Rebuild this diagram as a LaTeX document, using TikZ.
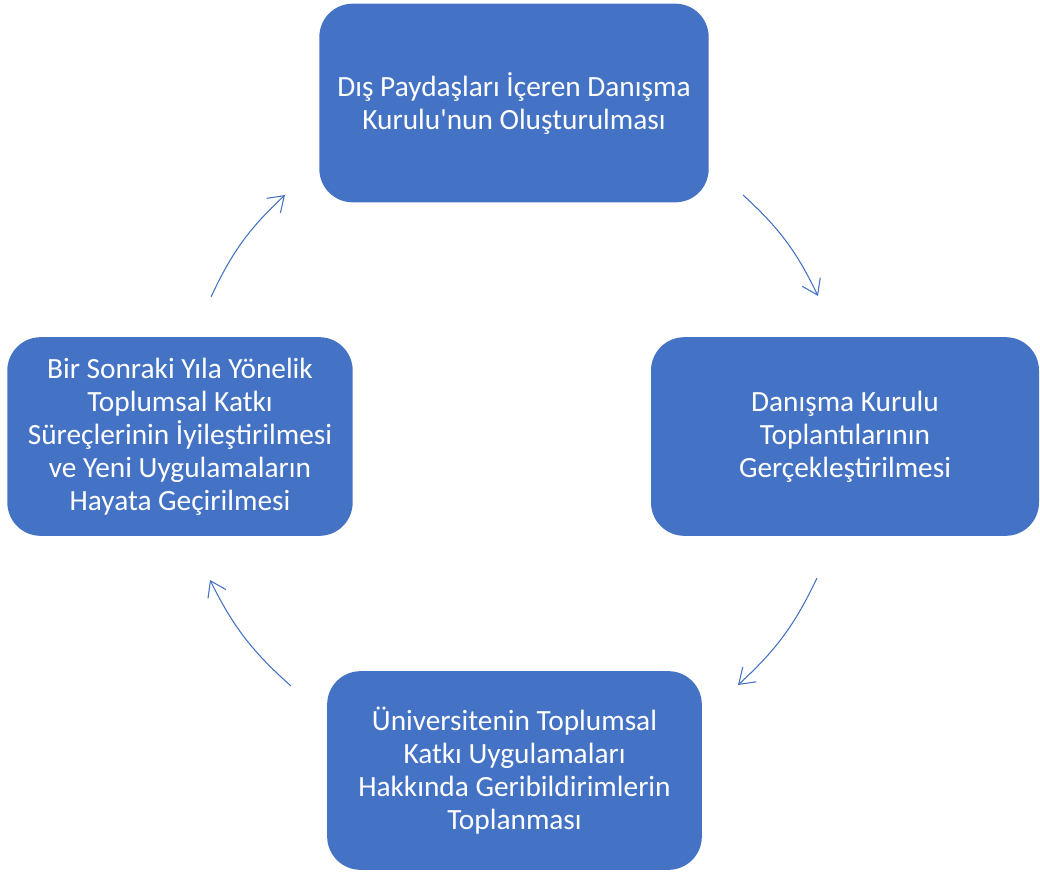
\documentclass[tikz,border=0pt]{standalone}
\usepackage{fontspec}
\setmainfont{Carlito}
\usepackage{tikz}
\usetikzlibrary{arrows.meta}

\definecolor{stepblue}{RGB}{68,114,196}

\begin{document}
\begin{tikzpicture}[
    x=0.75pt, y=-0.75pt,
    stepbox/.style={rectangle, fill=stepblue, rounded corners=25pt, text=white, align=center,
        inner sep=0pt, minimum height=149pt, font=\fontsize{22}{24.75}\selectfont},
    arrow/.style={-{Straight Barb[length=11pt, width=15pt]}, draw=stepblue, line width=0.8pt}
]
\useasboundingbox (0,0) rectangle (1040,875);

\node[stepbox, minimum width=292pt] (kurul) at (514,103) {Dış Paydaşları İçeren Danışma\\Kurulu\textquotesingle nun Oluşturulması};
\node[stepbox, minimum width=291pt] (toplanti) at (845,436.5) {Danışma Kurulu\\Toplantılarının\\Gerçekleştirilmesi};
\node[stepbox, minimum width=281pt] (geri) at (514.5,770.5) {Üniversitenin Toplumsal\\Katkı Uygulamaları\\Hakkında Geribildirimlerin\\Toplanması};
\node[stepbox, minimum width=259pt] (iyiles) at (180,436.5) {Bir Sonraki Yıla Yönelik\\Toplumsal Katkı\\Süreçlerinin İyileştirilmesi\\ve Yeni Uygulamaların\\Hayata Geçirilmesi};

% arc ends
\coordinate (a1) at (743,195);
\coordinate (a2) at (818,296);
\coordinate (b1) at (817,578);
\coordinate (b2) at (738,685);
\coordinate (c1) at (291,686);
\coordinate (c2) at (210,580);
\coordinate (d1) at (211,297);
\coordinate (d2) at (285,195);

\draw[arrow] (a1) to[bend left=11] (a2);
\draw[arrow] (b1) to[bend left=11] (b2);
\draw[arrow] (c1) to[bend left=11] (c2);
\draw[arrow] (d1) to[bend left=11] (d2);

\end{tikzpicture}
\end{document}
